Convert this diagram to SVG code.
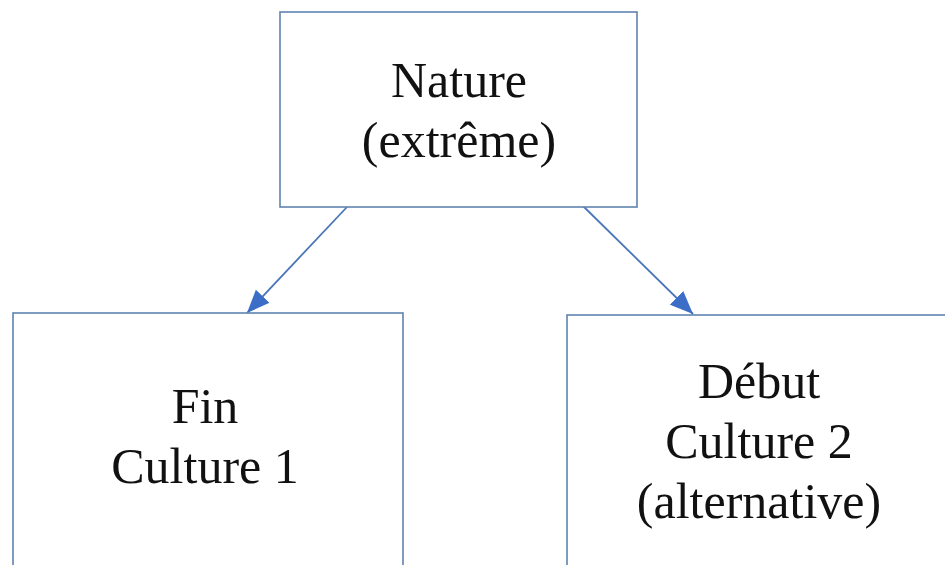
<svg xmlns="http://www.w3.org/2000/svg" width="945" height="565" viewBox="0 0 945 565">
<defs>
<style>
.box{fill:#fff;stroke:#5f84b0;stroke-width:1.6}
.lbl{font-family:"Liberation Serif","Times New Roman",serif;font-size:50px;fill:#111;text-anchor:middle}
.conn{stroke:#4a76b8;stroke-width:1.8;fill:none}
</style>
<marker id="ah" markerWidth="23" markerHeight="19" refX="23" refY="9.5" orient="auto" markerUnits="userSpaceOnUse">
<path d="M0,0 L23,9.5 L0,19 Z" fill="#3c6ec8"/>
</marker>
</defs>
<rect width="945" height="565" fill="#fff"/>
<g id="connectors">
<line class="conn" x1="347" y1="207" x2="247" y2="313" marker-end="url(#ah)"/>
<line class="conn" x1="583" y1="206" x2="693" y2="314" marker-end="url(#ah)"/>
</g>
<g id="nature">
<rect class="box" x="280" y="12" width="357" height="195"/>
<text class="lbl" x="459" y="97">Nature</text>
<text class="lbl" x="459" y="157">(extrême)</text>
</g>
<g id="fin">
<rect class="box" x="13" y="313" width="390" height="270"/>
<text class="lbl" x="205" y="423">Fin</text>
<text class="lbl" x="205" y="483">Culture 1</text>
</g>
<g id="debut">
<rect class="box" x="567" y="315" width="390" height="270"/>
<text class="lbl" x="759" y="398">Début</text>
<text class="lbl" x="759" y="458">Culture 2</text>
<text class="lbl" x="759" y="518">(alternative)</text>
</g>
</svg>
